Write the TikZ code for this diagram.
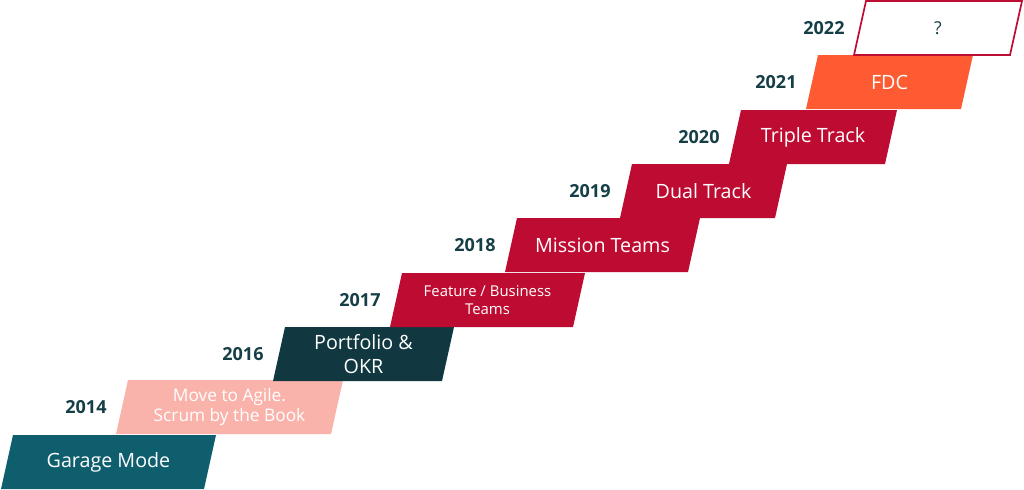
\documentclass[tikz,border=0pt]{standalone}
\usepackage{fontspec}
\setmainfont{Open Sans}
\usetikzlibrary{positioning}
\definecolor{garage}{HTML}{0F5E6E}
\definecolor{agile}{HTML}{F9B3AA}
\definecolor{okr}{HTML}{113741}
\definecolor{crimson}{HTML}{BE0B31}
\definecolor{fdc}{HTML}{FE5B33}
\definecolor{yeartext}{HTML}{163E46}
\tikzset{
    stair/.style={fill=#1},
    openstair/.style={fill=white,draw=crimson,line width=1.2pt},
    steptext/.style={text=white,align=center,inner sep=0pt},
    year/.style={text=yeartext,inner sep=0pt,font=\fontsize{12.8}{15}\selectfont\bfseries}
}
\begin{document}
\begin{tikzpicture}[x=0.025cm,y=-0.025cm]
    \useasboundingbox (0,0) rectangle (1024,489);
    %draw the steps
    \foreach \n/\bx/\by/\w/\c/\fs/\bs/\t in {
        garage/1/489/203/garage/14/16/Garage Mode,
        agile/116/434/215/agile/12.3/14.5/{Move to Agile.\\Scrum by the Book},
        okr/273/381/169/okr/14/16.6/{Portfolio \&\\OKR},
        feature/390/327/183/crimson/10.6/13/{Feature / Business\\Teams},
        mission/505/272/183/crimson/14/16/Mission Teams,
        dual/620/218/155/crimson/14/16/Dual Track,
        triple/729/164/156/crimson/14/16/Triple Track,
        fdc/806/109/155/fdc/14/16/FDC}
        {%
            \fill[stair=\c] (\bx,\by) -- ++(\w,0) -- ++(12,-54) -- ++(-\w,0) -- cycle;
            \coordinate (\n-l) at (\bx+6,\by-27);
            \node[steptext,font=\fontsize{\fs}{\bs}\selectfont] (\n) at (\bx+\w/2+6,\by-27) {\t};
        }
    %the open step
    \path[openstair] (854,55) -- ++(156,0) -- ++(12,-54) -- ++(-156,0) -- cycle;
    \coordinate (open-l) at (860,28);
    \node[steptext,text=yeartext,font=\fontsize{12.6}{14}\selectfont] (open) at (938,28) {?};
    %draw years
    \foreach \n/\yr in {agile/2014,okr/2016,feature/2017,mission/2018,dual/2019,triple/2020,fdc/2021,open/2022}
        {%
            \node[year,left=0.38cm of \n-l] (\n-yr) {\yr};
        }
\end{tikzpicture}
\end{document}
